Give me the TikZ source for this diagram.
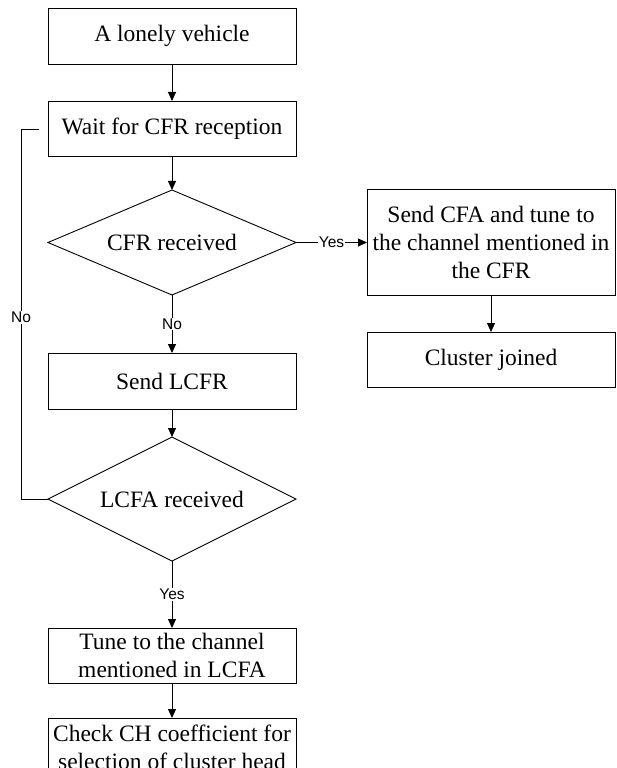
\documentclass[tikz,border=0pt]{standalone}
\usepackage{fontspec}
\setmainfont{Liberation Serif}
\newfontfamily\labelfont{Liberation Sans}
\usetikzlibrary{arrows.meta,shapes.geometric}
\begin{document}
\begin{tikzpicture}[x=1bp,y=-1bp,
  line width=0.9bp,
  every node/.style={inner sep=0pt,outer sep=0pt},
  procbox/.style={draw,rectangle,minimum width=248bp,align=center,
    font=\fontsize{23.5bp}{28bp}\selectfont},
  decbox/.style={draw,diamond,aspect=2.36,minimum width=248bp,
    font=\fontsize{23.5bp}{28bp}\selectfont},
  lbl/.style={fill=white,inner sep=1bp,font=\labelfont\fontsize{15.5bp}{18bp}\selectfont},
  arr/.style={-{Triangle[length=9bp,width=8bp]}}]
\useasboundingbox (0,0) rectangle (617,768);
\node[procbox,minimum height=56bp] (b1) at (172,36) {A lonely vehicle};
\node[procbox,minimum height=55bp] (b2) at (172,128.5) {Wait for CFR reception};
\node[decbox,minimum height=105bp] (d1) at (172,242.5) {CFR received};
\node[procbox,minimum height=106bp] (b3) at (491,242) {Send CFA and tune to\\the channel mentioned in\\the CFR};
\node[procbox,minimum height=55bp] (b4) at (491,359.5) {Cluster joined};
\node[procbox,minimum height=56bp] (b5) at (172,381) {Send LCFR};
\node[decbox,minimum height=124bp] (d2) at (172,499) {LCFA received};
\node[procbox,minimum height=55bp] (b6) at (172,655.5) {Tune to the channel\\mentioned in LCFA};
\node[procbox,minimum height=58bp] (b7) at (172,747) {Check CH coefficient for\\selection of cluster head};
\coordinate (lc1) at (21,499);
\coordinate (lc2) at (21,129);
\coordinate (lc3) at (39,129);

\draw[arr] (b1) -- (b2);
\draw[arr] (b2) -- (d1);
\draw[arr] (d1.east) -- node[lbl] {Yes} (b3.west |- d1.east);
\draw[arr] (b3) -- (b4);
\draw[arr] (d1.south) -- node[lbl,pos=0.5] {No} (b5.north);
\draw[arr] (b5) -- (d2);
\draw[arr] (d2.south) -- node[lbl] {Yes} (b6.north);
\draw[arr] (b6) -- (b7);
\draw (d2.west) -- (lc1) -- node[lbl,pos=0.49] {No} (lc2) -- (lc3);
\end{tikzpicture}
\end{document}
